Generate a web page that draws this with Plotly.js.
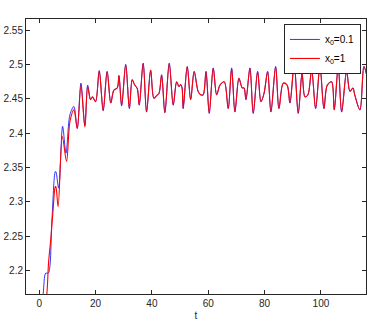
<!DOCTYPE html>
<html>
<head>
<meta charset="utf-8">
<script src="https://cdn.plot.ly/plotly-3.0.1.min.js"></script>
<style>
  html, body { margin: 0; padding: 0; background: #fff; }
  #chart { width: 381px; height: 323px; }
</style>
</head>
<body>
<div id="chart"></div>
<script>
// x0 = 0.1 (blau), Anlauf bis t ~ 20
const tBlueStart = [0, 1.4, 2.3, 3.2, 4.5, 5.7, 5.9, 6.9, 8.3, 9.5, 10.9, 12.3, 13.5, 14.8, 16.2, 17.2, 18.2, 18.9];
const yBlueStart = [2.12, 2.166, 2.196, 2.196, 2.274, 2.344, 2.344, 2.320, 2.410, 2.371, 2.427, 2.439, 2.407, 2.473, 2.411, 2.470, 2.449, 2.453];

// x0 = 1 (rot), Anlauf bis t ~ 20
const tRedStart = [0, 2.7, 3.3, 4.2, 5.0, 5.7, 5.9, 6.7, 8.2, 9.7, 10.9, 12.3, 13.5, 14.8, 16.2, 17.2, 18.2, 18.9];
const yRedStart = [2.08, 2.166, 2.211, 2.250, 2.293, 2.322, 2.322, 2.293, 2.395, 2.359, 2.417, 2.434, 2.407, 2.470, 2.409, 2.468, 2.449, 2.453];

// gemeinsamer Verlauf ab t ~ 20 (beide Kurven deckungsgleich)
const tTail = [20.0, 21.3, 22.7, 24.1, 25.4, 26.5, 27.7, 28.3, 29.25, 30.7, 32.0, 33.0, 33.8, 34.8, 35.5,
  36.9, 38.1, 39.55, 40.7, 41.7, 42.5, 43.45, 44.6, 46.15, 47.57, 48.78, 49.6, 50.2, 50.7, 51.1,
  52.54, 53.75, 55.0, 56.4, 57.3, 58.2, 59.2, 60.35, 61.77, 62.98, 64.15, 65.67, 67.09, 68.3, 69.47,
  70.89, 72.06, 72.7, 73.38, 74.8, 75.97, 77.53, 78.7, 79.8, 81.08, 82.25, 83.92, 85.09, 86.62, 88.0,
  88.99, 90.52, 91.94, 93.3, 94.32, 95.38, 96.7, 98.12, 99.65, 101.07, 102.24, 103.8, 104.72, 106.14,
  107.35, 109.12, 110.3, 111.36, 112.0, 113.85, 115.27, 116.5];
const yTail = [2.446, 2.491, 2.433, 2.490, 2.444, 2.463, 2.466, 2.484, 2.440, 2.500, 2.436, 2.478, 2.471, 2.465, 2.441,
  2.502, 2.431, 2.492, 2.451, 2.455, 2.458, 2.485, 2.430, 2.502, 2.441, 2.475, 2.468, 2.471, 2.466, 2.436,
  2.497, 2.449, 2.490, 2.461, 2.456, 2.456, 2.490, 2.429, 2.495, 2.456, 2.470, 2.475, 2.436, 2.495, 2.431,
  2.480, 2.466, 2.466, 2.449, 2.495, 2.429, 2.490, 2.446, 2.458, 2.490, 2.431, 2.497, 2.436, 2.473, 2.470,
  2.444, 2.500, 2.429, 2.487, 2.453, 2.456, 2.492, 2.436, 2.497, 2.436, 2.470, 2.475, 2.434, 2.497,
  2.431, 2.490, 2.461, 2.466, 2.456, 2.434, 2.497, 2.480];

const xTicks = [0, 20, 40, 60, 80, 100];
const yTicks = [2.2, 2.25, 2.3, 2.35, 2.4, 2.45, 2.5, 2.55];
const seriesNames = ["x<sub>0</sub>=0.1", "x<sub>0</sub>=1"];

const FONT = "Liberation Sans, Arial, sans-serif";

const traces = [
  {
    type: "scatter",
    mode: "lines",
    x: tBlueStart.concat(tTail),
    y: yBlueStart.concat(yTail),
    line: { width: 0.8, color: "#0000ff", shape: "spline", smoothing: 0.9 },
    name: seriesNames[0],
  },
  {
    type: "scatter",
    mode: "lines",
    x: tRedStart.concat(tTail),
    y: yRedStart.concat(yTail),
    line: { width: 1.1, color: "#ff0000", shape: "spline", smoothing: 0.9 },
    name: seriesNames[1],
  },
];

const axisStyle = {
  showgrid: false,
  zeroline: false,
  showline: true,
  mirror: "ticks",
  linecolor: "#262626",
  linewidth: 1,
  ticks: "inside",
  ticklen: 4,
  tickcolor: "#262626",
  tickfont: { family: FONT, size: 10, color: "#262626" },
};

Plotly.newPlot("chart", traces, {
  width: 381,
  height: 323,
  paper_bgcolor: "white",
  plot_bgcolor: "white",
  margin: { l: 26, r: 15, t: 19, b: 29 },
  showlegend: true,
  legend: {
    x: 0.985,
    xanchor: "right",
    y: 0.982,
    yanchor: "top",
    bgcolor: "white",
    bordercolor: "#262626",
    borderwidth: 1,
    itemwidth: 30,
    tracegroupgap: 0,
    font: { family: FONT, size: 10, color: "#000" },
  },
  xaxis: Object.assign({}, axisStyle, {
    range: [-4.7, 116],
    tickvals: xTicks,
    title: { text: "t", standoff: 3, font: { family: FONT, size: 10, color: "#262626" } },
  }),
  yaxis: Object.assign({}, axisStyle, {
    range: [2.1656, 2.5665],
    tickvals: yTicks,
  }),
}, { displayModeBar: false });
</script>
</body>
</html>
